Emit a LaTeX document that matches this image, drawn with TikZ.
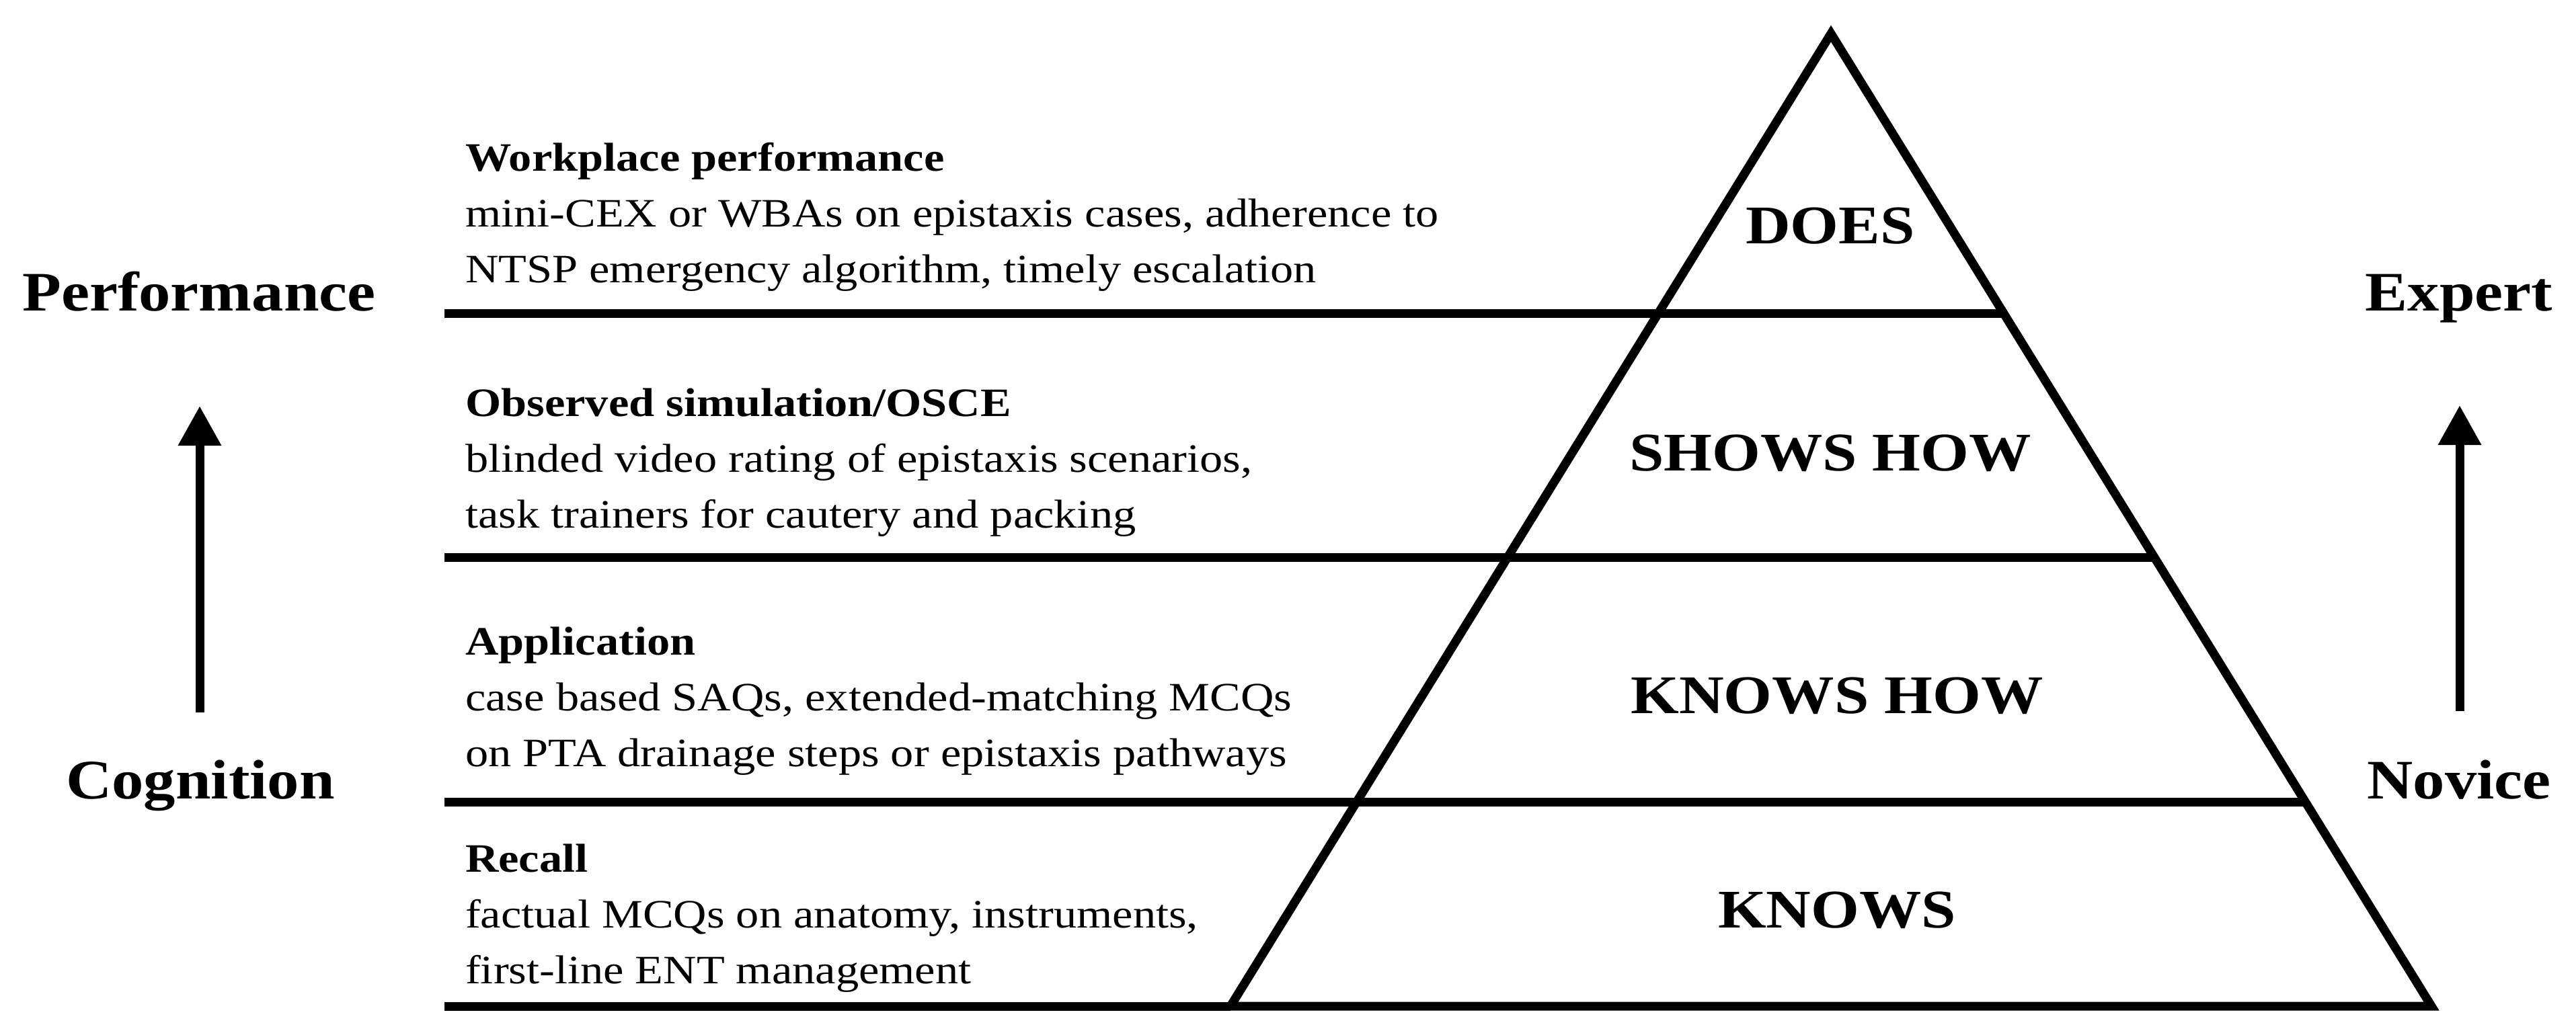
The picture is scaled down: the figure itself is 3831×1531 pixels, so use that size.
\documentclass[tikz,border=0pt]{standalone}
\usepackage{fontspec}
\setmainfont[FakeStretch=1.14]{Liberation Serif}
\usetikzlibrary{arrows.meta}
\begin{document}
\begin{tikzpicture}[x=1pt,y=-1pt,
  rule/.style={line width=13pt},
  body/.style={font=\fontsize{60}{83}\selectfont, anchor=base west, inner sep=0pt, align=left},
  side/.style={font=\fontsize{83}{100}\selectfont\bfseries, inner sep=0pt, anchor=base},
  level/.style={font=\fontsize{81}{90}\selectfont\bfseries, inner sep=0pt, anchor=base},
  uparrow/.style={line width=13pt, -{Triangle[length=59pt,width=61pt]}}]
\useasboundingbox (0,0) rectangle (3831,1531);
% pyramid
\coordinate (apex) at (2723,50);
\coordinate (bl) at (1830,1497);
\coordinate (br) at (3616,1497);
\draw[rule, line join=miter] (apex) -- (bl) -- (br) -- cycle;
% horizontal rules
\coordinate (l1) at (661,466);  \coordinate (r1) at (2980,466);
\coordinate (l2) at (661,829);  \coordinate (r2) at (3204,829);
\coordinate (l3) at (661,1193); \coordinate (r3) at (3428,1193);
\coordinate (l4) at (661,1497);
\draw[rule] (l1) -- (r1);
\draw[rule] (l2) -- (r2);
\draw[rule] (l3) -- (r3);
\draw[rule] (l4) -- (bl);
% level labels
\node[level] (does) at (2722,362) {DOES};
\node[level] (shows) at (2722,700) {SHOWS HOW};
\node[level] (knowshow) at (2732,1061) {KNOWS HOW};
\node[level] (knows) at (2732,1380) {KNOWS};
% descriptions (anchored at the baseline of the last line)
\node[body] (t1) at (692,420) {{\bfseries Workplace performance}\\mini-CEX or WBAs on epistaxis cases, adherence to\\NTSP emergency algorithm, timely escalation};
\node[body] (t2) at (692,785) {{\bfseries Observed simulation/OSCE}\\blinded video rating of epistaxis scenarios,\\task trainers for cautery and packing};
\node[body] (t3) at (692,1140) {{\bfseries Application}\\case based SAQs, extended-matching MCQs\\on PTA drainage steps or epistaxis pathways};
\node[body] (t4) at (692,1463) {{\bfseries Recall}\\factual MCQs on anatomy, instruments,\\first-line ENT management};
% side labels
\node[side] (perf) at (296,462) {Performance};
\node[side] (cog) at (298,1188) {Cognition};
\node[side] (exp) at (3657,462) {Expert};
\node[side] (nov) at (3657,1188) {Novice};
% arrows
\coordinate (la0) at (297,1060); \coordinate (la1) at (297,604);
\coordinate (ra0) at (3658,1058); \coordinate (ra1) at (3658,603);
\draw[uparrow] (la0) -- (la1);
\draw[uparrow] (ra0) -- (ra1);
\end{tikzpicture}
\end{document}
